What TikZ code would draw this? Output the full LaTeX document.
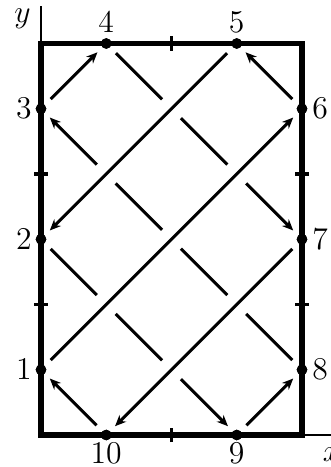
\documentclass[tikz,border=0pt]{standalone}
\usetikzlibrary{arrows.meta}
\begin{document}
\begin{tikzpicture}[x=49.4pt,y=49.4pt,
  font=\fontsize{12}{14}\selectfont,
  dot/.style={circle,fill=black,inner sep=0pt,minimum size=4pt},
  lab/.style={inner sep=3.33pt},
  path/.style={line width=1.2pt,shorten <=3pt,shorten >=2.5pt},
  arr/.style={path,-{Stealth[length=4.2pt,width=3.6pt]}},
  over/.style={preaction={draw=white,line width=10pt,-}},
  border/.style={line width=1.9pt},
  tick/.style={line width=1.3pt},
  axis/.style={line width=0.9pt}]
\useasboundingbox (-0.3142,-0.2452) rectangle (2.2222,3.3333);
% points
\node[dot] (p1) at (0,0.5) {};
\node[dot] (p2) at (0,1.5) {};
\node[dot] (p3) at (0,2.5) {};
\node[dot] (p4) at (0.5,3) {};
\node[dot] (p5) at (1.5,3) {};
\node[dot] (p6) at (2,2.5) {};
\node[dot] (p7) at (2,1.5) {};
\node[dot] (p8) at (2,0.5) {};
\node[dot] (p9) at (1.5,0) {};
\node[dot] (p10) at (0.5,0) {};
% under strands (slope -1)
\draw[arr] (p10) -- (p1);
\draw[arr] (p2) -- (p9);
\draw[arr] (p8) -- (p3);
\draw[arr] (p4) -- (p7);
\draw[arr] (p6) -- (p5);
% strands without crossings (slope +1)
\draw[arr] (p3) -- (p4);
\draw[arr] (p9) -- (p8);
% over strands
\draw[arr,over] (p1) -- (p6);
\draw[arr,over] (p5) -- (p2);
\draw[arr,over] (p7) -- (p10);
% axes
\coordinate (o) at (0,0);
\coordinate (xend) at (2.35,0);
\coordinate (yend) at (0,3.29);
\draw[axis] (o) -- (xend);
\draw[axis] (o) -- (yend);
% border
\draw[border] (0,0) rectangle (2,3);
% ticks
\draw[tick] (1,-0.055) -- (1,0.055);
\draw[tick] (1,2.945) -- (1,3.055);
\draw[tick] (-0.05,1) -- (0.05,1);
\draw[tick] (-0.05,2) -- (0.05,2);
\draw[tick] (1.95,1) -- (2.05,1);
\draw[tick] (1.95,2) -- (2.05,2);
% redraw dots on top
\foreach \p in {p1,p2,p3,p4,p5,p6,p7,p8,p9,p10} \fill (\p) circle (2pt);
% labels
\node[lab,left=0pt] at (p1) {$1$};
\node[lab,left=0pt] at (p2) {$2$};
\node[lab,left=0pt] at (p3) {$3$};
\node[lab,above=0.6pt] at (p4) {$4$};
\node[lab,above=0.6pt] at (p5) {$5$};
\node[lab,right=0.4pt] at (p6) {$6$};
\node[lab,right=0.4pt] at (p7) {$7$};
\node[lab,right=0.4pt] at (p8) {$8$};
\node[lab,below=-0.3pt] at (p9) {$9$};
\node[lab,below=-0.3pt] at (p10) {$10$};
\node[anchor=base,inner sep=0pt] (ylab) at (-0.142,3.161) {$y$};
\node[anchor=base,inner sep=0pt] (xlab) at (2.228,-0.2) {$x$};
\end{tikzpicture}
\end{document}
